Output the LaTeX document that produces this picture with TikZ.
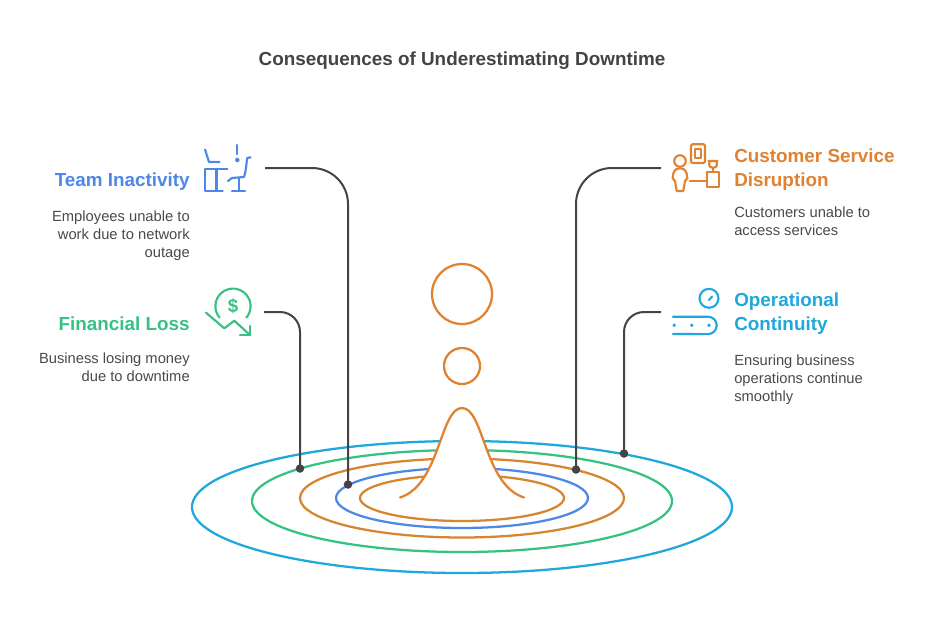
\documentclass[tikz,border=0pt]{standalone}
\usepackage{fontspec}
\setmainfont{Liberation Sans}
\definecolor{cblue}{HTML}{4E88E7}
\definecolor{cgreen}{HTML}{37C284}
\definecolor{corange}{HTML}{E0822F}
\definecolor{cring}{HTML}{D6862F}
\definecolor{ccyan}{HTML}{1EA8DC}
\definecolor{cdark}{HTML}{444444}
\definecolor{ctext}{HTML}{4A4A4A}
\tikzset{
  ring/.style={line width=1.7pt},
  conn/.style={draw=cdark,line width=1.5pt},
  pin/.style={circle,fill=cdark,inner sep=0pt,minimum size=6.4pt},
  icon/.style={line width=1.6pt,line cap=round,line join=round},
  head/.style={font=\fontsize{14.15}{18}\selectfont\bfseries,inner sep=0pt},
  body/.style={font=\fontsize{11.05}{13.5}\selectfont,text=ctext,inner sep=0pt},
  lhs/.style={align=right,anchor=north east},
  rhs/.style={align=left,anchor=north west},
}
\begin{document}
\begin{tikzpicture}[x=0.75pt,y=-0.75pt]
\useasboundingbox[fill=white] (0,0) rectangle (936,622);
\node[font=\fontsize{14.15}{18}\selectfont\bfseries,text=cdark,inner sep=0pt] (title) at (462,60.5) {Consequences of Underestimating Downtime};
% rings
\draw[ring,ccyan] (462,507) ellipse [x radius=270,y radius=66];
\draw[ring,cgreen] (462,501) ellipse [x radius=210,y radius=51];
\draw[ring,cring] (462,498) ellipse [x radius=162,y radius=39.5];
\draw[ring,cblue] (462,498) ellipse [x radius=126,y radius=30];
\draw[ring,cring] (462,498) ellipse [x radius=102,y radius=23];
% bell
\draw[ring,corange,fill=white,line cap=round] (400,497.5) .. controls (440,485) and (440,408) .. (462,408) .. controls (484,408) and (484,485) .. (524,497.5);
\node[circle,draw=corange,line width=1.7pt,minimum size=45pt,inner sep=0pt] (bigc) at (462,294) {};
\node[circle,draw=corange,line width=1.7pt,minimum size=27pt,inner sep=0pt] (smallc) at (462,366) {};
% anchors and connectors
\coordinate (a1) at (265,168); \coordinate (a2) at (264,312);
\coordinate (a3) at (661,168); \coordinate (a4) at (661,312);
\node[pin] (p1) at (348,484.5) {};
\node[pin] (p2) at (300,468.5) {};
\node[pin] (p3) at (576,469.5) {};
\node[pin] (p4) at (624,453.5) {};
\draw[conn] (a1) -- (312,168) arc[start angle=90,end angle=0,x radius=36,y radius=-36] -- (p1.center);
\draw[conn] (a2) -- (280,312) arc[start angle=90,end angle=0,x radius=20,y radius=-20] -- (p2.center);
\draw[conn] (a3) -- (612,168) arc[start angle=90,end angle=180,x radius=36,y radius=-36] -- (p3.center);
\draw[conn] (a4) -- (644,312) arc[start angle=90,end angle=180,x radius=20,y radius=-20] -- (p4.center);
% left text
\node[head,lhs,text=cblue] (t1) at (190,173) {Team Inactivity};
\node[body,lhs] (b1) at (190,210.5) {Employees unable to\\work due to network\\outage};
\node[head,lhs,text=cgreen] (t2) at (190,317) {Financial Loss};
\node[body,lhs] (b2) at (190,352.5) {Business losing money\\due to downtime};
% right text
\node[head,rhs,text=corange] (t3) at (734,149) {Customer Service\\Disruption};
\node[body,rhs] (b3) at (734,207) {Customers unable to\\access services};
\node[head,rhs,text=ccyan] (t4) at (734,293) {Operational\\Continuity};
\node[body,rhs] (b4) at (734,354.5) {Ensuring business\\operations continue\\smoothly};
% team icon
\begin{scope}[icon,cblue]
\draw (205,149.5) -- (209,162) -- (219.5,162);
\draw (227.3,169) -- (205,169) -- (205,190.7) -- (222.7,190.7);
\draw (216.5,169) -- (216.5,190.7);
\draw (237.3,145) -- (237.3,154);
\fill (237.3,160) circle (1.7pt);
\draw (250.7,157.3) -- (247.3,158) .. controls (246,165) and (246,172) .. (244,177) -- (232,178) -- (228,181);
\draw (239,178) -- (239,190.7);
\draw (232,190.7) -- (245,190.7);
\end{scope}
% financial icon
\begin{scope}[icon,cgreen]
\draw (219.5,317.5) arc[start angle=220,end angle=-40,x radius=17.6,y radius=-17.6];
\node[text=cgreen,font=\fontsize{14}{14}\selectfont\bfseries,inner sep=0pt] (dollar) at (233,306) {\$};
\draw (206,312.7) -- (224.3,328.3) -- (234.3,320.7) -- (250,335);
\draw (250,326) -- (250,335) -- (240,335);
\end{scope}
% customer icon
\begin{scope}[icon,corange]
\draw[rounded corners=1pt] (691,144.3) rectangle (705,163);
\draw[line width=1.3pt] (695,149) rectangle (701,158.3);
\draw (680,161) circle (4.3pt);
\draw (676.7,191) -- (675,181) -- (672.7,178.3) .. controls (672.7,172) and (675,168.3) .. (680,168.3) .. controls (685,168.3) and (687.3,172) .. (687.3,178.3) -- (685,181) -- (683.3,191) -- cycle;
\draw (690,181) -- (706.7,181);
\draw (706.7,172.3) rectangle (719.3,187.3);
\draw (708.5,161) -- (717.5,161) (709.5,161) .. controls (708,167) and (711,168) .. (713,168) .. controls (715,168) and (718,167) .. (716.5,161);
\draw (713,168) -- (713,172.3);
\end{scope}
% operational icon
\begin{scope}[icon,ccyan]
\draw (709,298.3) circle (7.1pt);
\draw (709,300) -- (712,296.5);
\draw (673,316.7) -- (708,316.7) arc[start angle=90,end angle=-90,x radius=8.7,y radius=-8.7] -- (673,334);
\fill (674.3,325.3) circle (1.4pt) (691.7,325.3) circle (1.4pt) (709,325.3) circle (1.4pt);
\end{scope}
\end{tikzpicture}
\end{document}
